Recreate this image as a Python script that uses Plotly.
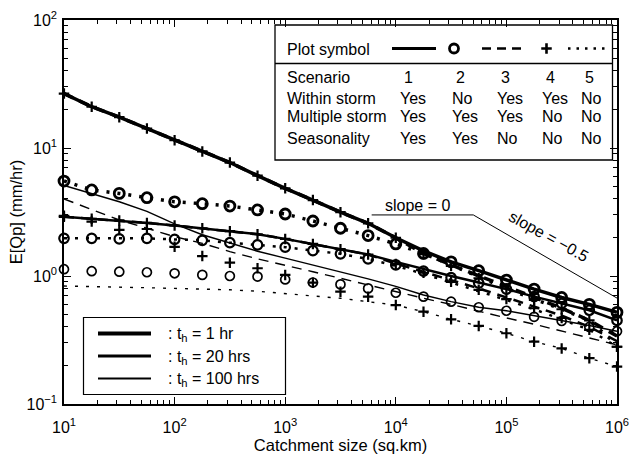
import plotly.graph_objects as go

FONT = "Liberation Sans, Arial, Helvetica, sans-serif"

# ---------------- data ----------------
catchment = [10, 17.8, 31.6, 56.2, 100, 178, 316, 562, 1000, 1780, 3160, 5620,
             10000, 17800, 31600, 56200, 100000, 178000, 316000, 562000, 1000000]

# t_h = 1 hr
A1 = [26.6, 21.0, 17.4, 14.2, 11.5, 9.4, 7.7, 6.08, 4.84, 3.92, 3.15, 2.58, 1.99, 1.57, 1.29, 1.10, 0.93, 0.79, 0.68, 0.60, 0.52]
A2 = [5.52, 4.70, 4.42, 4.09, 3.80, 3.67, 3.52, 3.28, 3.05, 2.69, 2.36, 2.07, 1.78, 1.50, 1.29, 1.10, 0.93, 0.79, 0.68, 0.60, 0.52]
A3 = [26.6, 21.0, 17.4, 14.2, 11.5, 9.4, 7.7, 6.08, 4.84, 3.92, 3.15, 2.58, 1.99, 1.50, 1.22, 1.00, 0.83, 0.68, 0.56, 0.45, 0.34]
A4 = [26.6, 21.0, 17.4, 14.2, 11.5, 9.4, 7.7, 6.08, 4.84, 3.92, 3.15, 2.58, 1.99, 1.48, 1.20, 0.96, 0.80, 0.65, 0.55, 0.45, 0.28]
A5 = [5.52, 4.70, 4.42, 4.09, 3.80, 3.67, 3.52, 3.28, 3.05, 2.69, 2.36, 2.07, 1.78, 1.50, 1.22, 0.98, 0.80, 0.66, 0.55, 0.45, 0.29]

# t_h = 20 hrs
B1 = [2.90, 2.80, 2.72, 2.60, 2.48, 2.36, 2.24, 2.12, 1.95, 1.78, 1.62, 1.47, 1.29, 1.13, 1.00, 0.89, 0.79, 0.69, 0.61, 0.54, 0.45]
B2 = [1.97, 1.97, 1.95, 1.97, 1.93, 1.90, 1.82, 1.75, 1.68, 1.58, 1.49, 1.36, 1.22, 1.09, 0.97, 0.88, 0.79, 0.69, 0.61, 0.54, 0.45]
B3 = [2.90, 2.80, 2.72, 2.60, 2.48, 2.36, 2.24, 2.12, 1.95, 1.78, 1.62, 1.47, 1.25, 1.08, 0.93, 0.80, 0.68, 0.58, 0.49, 0.40, 0.31]
B4 = [2.90, 2.80, 2.72, 2.60, 2.48, 2.36, 2.24, 2.12, 1.95, 1.78, 1.62, 1.47, 1.24, 1.06, 0.90, 0.78, 0.66, 0.56, 0.47, 0.38, 0.28]
B5 = [1.97, 1.97, 1.95, 1.97, 1.93, 1.90, 1.82, 1.75, 1.68, 1.58, 1.49, 1.36, 1.20, 1.04, 0.89, 0.77, 0.65, 0.55, 0.46, 0.38, 0.28]

# t_h = 100 hrs
C1 = [5.10, 4.40, 3.80, 3.20, 2.55, 2.10, 1.80, 1.56, 1.38, 1.22, 1.08, 0.95, 0.83, 0.71, 0.63, 0.57, 0.535, 0.49, 0.45, 0.41, 0.37]
C2 = [1.13, 1.09, 1.08, 1.07, 1.05, 1.02, 1.00, 0.99, 0.94, 0.89, 0.86, 0.80, 0.74, 0.69, 0.63, 0.57, 0.535, 0.48, 0.445, 0.40, 0.37]
C3 = [4.00, 3.32, 2.74, 2.36, 2.03, 1.80, 1.55, 1.36, 1.22, 1.08, 0.96, 0.85, 0.75, 0.67, 0.60, 0.53, 0.47, 0.42, 0.37, 0.33, 0.29]
C4 = [2.95, 2.66, 2.29, 2.33, 1.69, 1.43, 1.27, 1.15, 1.02, 0.887, 0.754, 0.69, 0.593, 0.526, 0.459, 0.407, 0.357, 0.307, 0.272, 0.228, 0.196]
C5 = [0.835, 0.83, 0.82, 0.81, 0.80, 0.79, 0.78, 0.76, 0.73, 0.70, 0.67, 0.63, 0.593, 0.526, 0.459, 0.407, 0.357, 0.307, 0.272, 0.228, 0.196]

# slope guide lines
slope_x = [6050, 50200, 1000000]
slope_y0 = 3.0
slope_val = -0.5

# tick labels
x_tickvals = [1e1, 1e2, 1e3, 1e4, 1e5, 1e6]
x_ticktext = ["10<sup>1</sup>", "10<sup>2</sup>", "10<sup>3</sup>", "10<sup>4</sup>", "10<sup>5</sup>", "10<sup>6</sup>"]
y_tickvals = [0.1, 1, 10, 100]
y_ticktext = ["10<sup>\u22121</sup>", "10<sup>0</sup>", "10<sup>1</sup>", "10<sup>2</sup>"]

# table text
table_rows = ["Scenario", "Within storm", "Multiple storm", "Seasonality"]
table_vals = [["1", "2", "3", "4", "5"],
              ["Yes", "No", "Yes", "Yes", "No"],
              ["Yes", "Yes", "Yes", "No", "No"],
              ["Yes", "Yes", "No", "No", "No"]]
legend_labels = [": t<sub>h</sub> = 1 hr", ": t<sub>h</sub> = 20 hrs", ": t<sub>h</sub> = 100 hrs"]

# ---------------- styles ----------------
W, H = 629, 454
L, R, T, B = 64, 617, 20, 404
TXT = dict(family=FONT, size=16, color="black")


def fx(px):
    return (px - L) / (R - L)


def fy(py):
    return (B - py) / (B - T)


DASH = "10px,7px"
DOT = "3px,8px"

groups = [
    (A1, A2, A3, A4, A5, 3.5, 10, 2.8),
    (B1, B2, B3, B4, B5, 2.5, 9.5, 2.2),
    (C1, C2, C3, C4, C5, 1.4, 9, 1.7),
]

fig = go.Figure()

# lines first
for s1, s2, s3, s4, s5, lw, ms, mlw in groups:
    fig.add_trace(go.Scatter(x=catchment, y=s5, mode="lines",
                             line=dict(color="black", width=lw, dash=DOT)))
    fig.add_trace(go.Scatter(x=catchment, y=s3, mode="lines",
                             line=dict(color="black", width=lw, dash=DASH)))
    fig.add_trace(go.Scatter(x=catchment, y=s1, mode="lines",
                             line=dict(color="black", width=lw)))
# markers
for s1, s2, s3, s4, s5, lw, ms, mlw in groups:
    fig.add_trace(go.Scatter(x=catchment, y=s2, mode="markers", cliponaxis=False,
                             marker=dict(symbol="circle-open", size=ms, color="black",
                                         line=dict(width=mlw, color="black"))))
    fig.add_trace(go.Scatter(x=catchment, y=s4, mode="markers", cliponaxis=False,
                             marker=dict(symbol="cross-thin-open", size=7.5, color="black",
                                         line=dict(width=2.2, color="black"))))

# slope guide
slope_y = [slope_y0, slope_y0, slope_y0 * (slope_x[2] / slope_x[1]) ** slope_val]
fig.add_trace(go.Scatter(x=slope_x, y=slope_y, mode="lines",
                         line=dict(color="black", width=1)))

shapes = []
annotations = []

# ----- top-right table -----
shapes.append(dict(type="rect", xref="paper", yref="paper",
                   x0=fx(275), x1=fx(612.5), y0=fy(160), y1=fy(25),
                   line=dict(color="black", width=1.3), fillcolor="white", layer="below"))
shapes.append(dict(type="line", xref="paper", yref="paper",
                   x0=fx(275), x1=fx(612.5), y0=fy(63.5), y1=fy(63.5),
                   line=dict(color="black", width=1.3), layer="above"))
sym_y = 48.5
shapes.append(dict(type="line", xref="paper", yref="paper", x0=fx(392), x1=fx(436),
                   y0=fy(sym_y), y1=fy(sym_y), line=dict(color="black", width=3), layer="above"))
shapes.append(dict(type="line", xref="paper", yref="paper", x0=fx(482), x1=fx(526),
                   y0=fy(sym_y), y1=fy(sym_y), line=dict(color="black", width=2.5, dash="9px,6px"),
                   layer="above"))
shapes.append(dict(type="line", xref="paper", yref="paper", x0=fx(568), x1=fx(605),
                   y0=fy(sym_y), y1=fy(sym_y), line=dict(color="black", width=2.5, dash="2.5px,6px"),
                   layer="above"))
fig.add_trace(go.Scatter(x=[fx(454)], y=[fy(sym_y)], xaxis="x2", yaxis="y2", mode="markers",
                         marker=dict(symbol="circle-open", size=9, color="black",
                                     line=dict(width=2.8, color="black"))))
fig.add_trace(go.Scatter(x=[fx(546.5)], y=[fy(sym_y)], xaxis="x2", yaxis="y2", mode="markers",
                         marker=dict(symbol="cross-thin-open", size=7.5, color="black",
                                     line=dict(width=2.6, color="black"))))

annotations.append(dict(text="Plot symbol", xref="paper", yref="paper", x=fx(285), y=fy(49),
                        xanchor="left", yanchor="middle", showarrow=False, font=TXT))
row_y = [77, 98, 116.5, 138.5]
col_x = [398, 450, 495, 540, 579]
for ri, (name, vals) in enumerate(zip(table_rows, table_vals)):
    annotations.append(dict(text=name, xref="paper", yref="paper", x=fx(285), y=fy(row_y[ri]),
                            xanchor="left", yanchor="middle", showarrow=False, font=TXT))
    for ci, v in enumerate(vals):
        xx = col_x[ci] + (4 if ri == 0 else 0)
        annotations.append(dict(text=v, xref="paper", yref="paper", x=fx(xx), y=fy(row_y[ri]),
                                xanchor="left", yanchor="middle", showarrow=False, font=TXT))

# ----- bottom-left legend -----
shapes.append(dict(type="rect", xref="paper", yref="paper",
                   x0=fx(83.5), x1=fx(285.5), y0=fy(394.5), y1=fy(317.5),
                   line=dict(color="black", width=1.2), fillcolor="white", layer="below"))
leg_y = [333.5, 356, 378.5]
leg_w = [4, 3.2, 2.2]
for i in range(3):
    shapes.append(dict(type="line", xref="paper", yref="paper", x0=fx(98), x1=fx(151),
                       y0=fy(leg_y[i]), y1=fy(leg_y[i]), line=dict(color="black", width=leg_w[i]),
                       layer="above"))
    annotations.append(dict(text=legend_labels[i], xref="paper", yref="paper", x=fx(166),
                            y=fy(leg_y[i] + 1), xanchor="left", yanchor="middle", showarrow=False,
                            font=TXT))

# ----- slope labels -----
annotations.append(dict(text="slope = 0", xref="paper", yref="paper", x=fx(417), y=fy(205),
                        xanchor="center", yanchor="middle", showarrow=False, font=TXT))
annotations.append(dict(text="slope = \u22120.5", xref="paper", yref="paper", x=fx(549), y=fy(236),
                        xanchor="center", yanchor="middle", showarrow=False, textangle=29,
                        font=TXT))

minor_x = [m * 10 ** e for e in range(1, 6) for m in range(2, 10)]
minor_y = [m * 10 ** e for e in range(-1, 2) for m in range(2, 10)]

axis_common = dict(type="log", ticks="inside", ticklen=7, tickwidth=1.2, tickcolor="black",
                   showline=True, linecolor="black", linewidth=1.5, mirror="ticks",
                   showgrid=False, zeroline=False, automargin=False,
                   ticklabeloverflow="allow",
                   tickfont=dict(family=FONT, size=16, color="black"))

fig.update_layout(
    width=W, height=H,
    margin=dict(l=L, r=W - R, t=T, b=H - B, autoexpand=False),
    paper_bgcolor="white", plot_bgcolor="white",
    showlegend=False,
    font=dict(family=FONT, size=16, color="black"),
    xaxis=dict(range=[1, 6], tickmode="array", tickvals=x_tickvals, ticktext=x_ticktext,
               ticklabelstandoff=8,
               minor=dict(tickmode="array", tickvals=minor_x, ticks="inside", ticklen=4,
                          tickcolor="black", tickwidth=1, showgrid=False),
               title=dict(text="Catchment size (sq.km)", standoff=2,
                          font=dict(family=FONT, size=16.5, color="black")),
               **axis_common),
    yaxis=dict(range=[-1, 2], tickmode="array", tickvals=y_tickvals, ticktext=y_ticktext,
               ticklabelstandoff=2,
               minor=dict(tickmode="array", tickvals=minor_y, ticks="inside", ticklen=4,
                          tickcolor="black", tickwidth=1, showgrid=False),
               title=dict(text="E[Qp] (mm/hr)", standoff=0,
                          font=dict(family=FONT, size=16.5, color="black")),
               **axis_common),
    xaxis2=dict(overlaying="x", range=[0, 1], visible=False),
    yaxis2=dict(overlaying="y", range=[0, 1], visible=False),
    shapes=shapes,
    annotations=annotations,
)

fig.write_html("out.html")
